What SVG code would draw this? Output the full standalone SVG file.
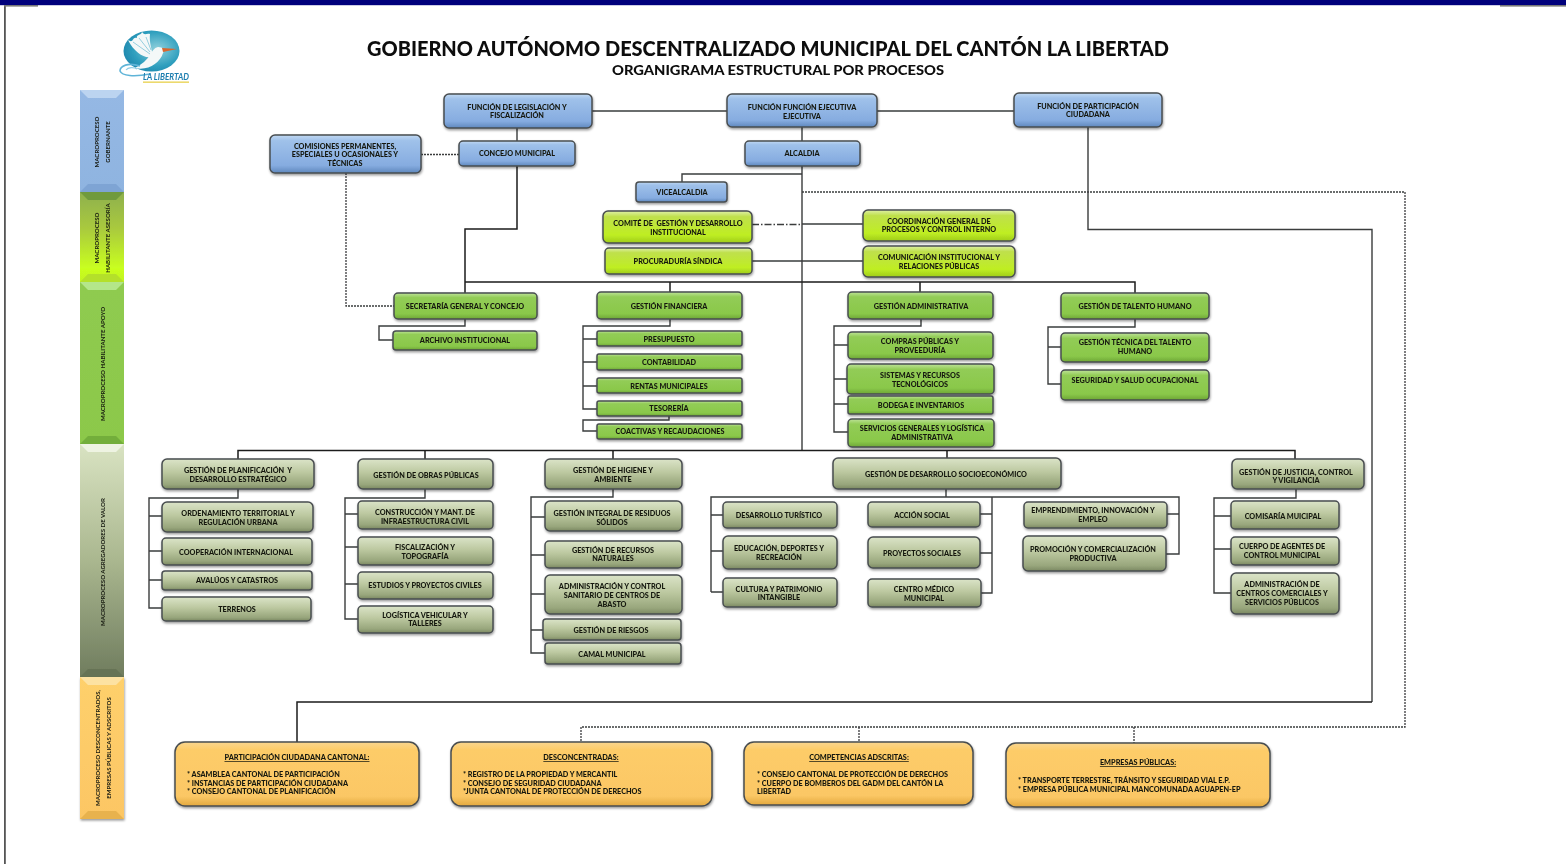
<svg xmlns="http://www.w3.org/2000/svg" width="1566" height="864" viewBox="0 0 1566 864">
<style>
text{font-family:"Lato","Open Sans","Liberation Sans",sans-serif;fill:#15180f;white-space:pre}
.t{font-size:7.25px;font-weight:900;text-anchor:middle}
.l{font-size:7.25px;font-weight:900}
.h{font-size:7.3px;font-weight:900;text-anchor:middle;text-decoration:underline}
.v{font-size:6.1px;font-weight:700;text-anchor:middle}
.n{stroke:#484d50;stroke-width:1.5;filter:url(#sh)}
.blue{fill:url(#gb)}.lime{fill:url(#gl)}.green{fill:url(#gg)}.olive{fill:url(#go)}.orange{fill:url(#gy)}
.c{fill:none;stroke:#3a3c3e;stroke-width:1.4}
.k{fill:none;stroke:#1c1c1c;stroke-width:1.5}
.d{fill:none;stroke:#3a3c3e;stroke-width:1.3;stroke-dasharray:2 1}
</style>
<defs>
<filter id="sh" x="-10%" y="-20%" width="120%" height="150%"><feDropShadow dx="0.6" dy="1.6" stdDeviation="1.2" flood-color="#000" flood-opacity=".4"/></filter>
<filter id="sf" x="-2%" y="-2%" width="104%" height="104%"><feGaussianBlur stdDeviation="0.3"/></filter>
<filter id="lf" x="-20%" y="-20%" width="140%" height="140%"><feGaussianBlur stdDeviation="0.5"/></filter>
<linearGradient id="gb" x1="0" y1="0" x2="0" y2="1"><stop offset="0" stop-color="#c2d9f2"/><stop offset=".15" stop-color="#9fc1ea"/><stop offset=".8" stop-color="#86ace0"/><stop offset="1" stop-color="#5f88bd"/></linearGradient>
<linearGradient id="gl" x1="0" y1="0" x2="0" y2="1"><stop offset="0" stop-color="#dff0a8"/><stop offset=".18" stop-color="#bfe04c"/><stop offset=".75" stop-color="#bfee22"/><stop offset="1" stop-color="#9fcc1c"/></linearGradient>
<linearGradient id="gg" x1="0" y1="0" x2="0" y2="1"><stop offset="0" stop-color="#bfe39a"/><stop offset=".18" stop-color="#92cc56"/><stop offset=".8" stop-color="#8ac84a"/><stop offset="1" stop-color="#6da636"/></linearGradient>
<linearGradient id="go" x1="0" y1="0" x2="0" y2="1"><stop offset="0" stop-color="#dbe4c8"/><stop offset=".45" stop-color="#bcc8a0"/><stop offset=".85" stop-color="#98a67c"/><stop offset="1" stop-color="#7b8862"/></linearGradient>
<linearGradient id="gy" x1="0" y1="0" x2="0" y2="1"><stop offset="0" stop-color="#f9d690"/><stop offset=".12" stop-color="#fdcc68"/><stop offset=".85" stop-color="#fbc765"/><stop offset="1" stop-color="#e3a93f"/></linearGradient>
<linearGradient id="sb" x1="0" y1="0" x2="0" y2="1"><stop offset="0" stop-color="#95b8e4"/><stop offset="1" stop-color="#8fb4e0"/></linearGradient>
<linearGradient id="sl" x1="0" y1="0" x2="0" y2="1"><stop offset="0" stop-color="#8eb04e"/><stop offset=".4" stop-color="#a9c93e"/><stop offset=".85" stop-color="#c9ff1f"/><stop offset="1" stop-color="#c2f320"/></linearGradient>
<linearGradient id="sg" x1="0" y1="0" x2="0" y2="1"><stop offset="0" stop-color="#8fcb50"/><stop offset="1" stop-color="#8cc84a"/></linearGradient>
<linearGradient id="so" x1="0" y1="0" x2="0" y2="1"><stop offset="0" stop-color="#d9e3c2"/><stop offset=".5" stop-color="#aab78f"/><stop offset="1" stop-color="#6f7c5e"/></linearGradient>
<linearGradient id="sy" x1="0" y1="0" x2="0" y2="1"><stop offset="0" stop-color="#fed06c"/><stop offset="1" stop-color="#fcc664"/></linearGradient>
<radialGradient id="ball" cx=".6" cy=".45" r=".7"><stop offset="0" stop-color="#8fd0dc"/><stop offset=".6" stop-color="#2f9fbe"/><stop offset="1" stop-color="#1a7fa8"/></radialGradient>
</defs>
<rect width="1566" height="864" fill="#fff"/>
<g id="frame">
<rect x="0" y="0" width="1566" height="5.2" fill="#00007c"/>
<rect x="4" y="5" width="1.8" height="859" fill="#555"/>
<rect x="4" y="5" width="34" height="1.6" fill="#777"/>
<rect x="1500" y="5" width="66" height="1.6" fill="#777"/>
</g>
<g filter="url(#sf)">
<g id="logo" filter="url(#lf)">
<ellipse cx="151.500" cy="51" rx="28" ry="20.500" fill="url(#ball)"/>
<path d="M128 40C134 44 132 36 137 38C136 34 141 36 142 32C145 36 146 33 150 34C149 42 152 50 153 56C147 60 135 54 128 40Z" fill="#f4f8f8"/>
<path d="M150 54L133 42M150 52L139 38M151 50L146 37" fill="none" stroke="#6bbcd2" stroke-width=".7"/>
<path d="M158 47C163 47 165 50 163 53C160 63 148 71 135 68C142 64 147 60 150 55C152 51 154 48 158 47Z" fill="#f4f8f8"/>
<path d="M162 48L177 49L163 52Z" fill="#d9662f"/>
<path d="M140 66C128 62 120 66 120 71C122 76 134 77 150 74" fill="none" stroke="#5fb4d8" stroke-width="1.600"/>
<path d="M126 70C128 67 134 67 137 69" fill="none" stroke="#8fcde6" stroke-width="1.200"/>
<rect x="143" y="81.500" width="46" height="1.300" fill="#e8d04a"/>
</g>
<text id="logo-text" x="143" y="80.300" font-size="8.600" font-style="italic" font-weight="700" style="fill:#1f7fb0" textLength="46" lengthAdjust="spacingAndGlyphs">LA LIBERTAD</text>
<g id="title">
<text x="768" y="56" font-size="20" font-weight="900" text-anchor="middle" textLength="802" lengthAdjust="spacingAndGlyphs" style="fill:#111">GOBIERNO AUTÓNOMO DESCENTRALIZADO MUNICIPAL DEL CANTÓN LA LIBERTAD</text>
<text x="778" y="75" font-size="13.500" font-weight="900" text-anchor="middle" textLength="332" lengthAdjust="spacingAndGlyphs" style="fill:#111">ORGANIGRAMA ESTRUCTURAL POR PROCESOS</text>
</g>
<g id="process-bar">
<g id="bar-gobernante"><rect x="80" y="90" width="44" height="102" fill="url(#sb)"/><polygon points="80,90 124,90 116,98 88,98" fill="#bcd4f0"/><polygon points="88,184 116,184 124,192 80,192" fill="#7ea4d4"/><text class="v" transform="translate(98.500,142) rotate(-90)">MACROPROCESO</text><text class="v" transform="translate(109.500,142) rotate(-90)">GOBERNANTE</text></g>
<g id="bar-asesoria"><rect x="80" y="192" width="44" height="90" fill="url(#sl)"/><polygon points="80,192 124,192 116,200 88,200" fill="#6f9a3e"/><polygon points="88,274 116,274 124,282 80,282" fill="#b4e029"/><text class="v" transform="translate(99,238) rotate(-90)">MACROPROCESO</text><text class="v" transform="translate(110,238) rotate(-90)">HABILITANTE ASESORÍA</text></g>
<g id="bar-apoyo"><rect x="80" y="282" width="44" height="162" fill="url(#sg)"/><polygon points="80,282 124,282 116,290 88,290" fill="#b4e68a"/><polygon points="88,436 116,436 124,444 80,444" fill="#73ae3a"/><text class="v" transform="translate(104.500,364) rotate(-90)">MACROPROCESO HABILITANTE APOYO</text></g>
<g id="bar-valor"><rect x="80" y="444" width="44" height="233" fill="url(#so)"/><polygon points="80,444 124,444 116,452 88,452" fill="#eef3e2"/><polygon points="88,669 116,669 124,677 80,677" fill="#667354"/><text class="v" transform="translate(104.500,562) rotate(-90)">MACROPROCESO AGREGADORES DE VALOR</text></g>
<g id="bar-descon"><rect x="80" y="677" width="44" height="142" fill="url(#sy)" style="filter:url(#sh)"/><polygon points="80,677 124,677 116,685 88,685" fill="#fde2a2"/><polygon points="88,811 116,811 124,819 80,819" fill="#e8b24e"/><text class="v" transform="translate(99.500,748) rotate(-90)">MACROPROCESO DESCONCENTRADOS,</text><text class="v" transform="translate(110.500,748) rotate(-90)">EMPRESAS PÚBLICAS Y ADSCRITOS</text></g>
</g>
<g id="connectors">
<path class="c" d="M592 111H727M877 111H1014M517 128V141M802 127V450"/>
<path class="k" d="M517 166V229H465V293M465 282H1135V293M670 282V292M920 282V292"/>
<path class="c" d="M802 174H682V182M802 224H863M752 261H863"/>
<path class="c" d="M752 224.500H802" style="stroke-dasharray:7 2 1.500 2"/>
<path class="k" d="M238 459V450.500H1295V459M425 450.500V459M613 450.500V459M947 450.500V458"/>
<path class="c" d="M1088 127V229.500H1372V702"/>
<path class="k" d="M1372 702H297V742"/>
<path class="d" d="M802 192H1405V727H581V742M859 727V742M1134 727V743"/>
<path class="d" d="M421 154.500H459M346 173V306H394"/>
<path class="c" d="M465 319V326H379V340H393"/>
<path class="c" d="M670 319V326H583V409H597M583 339H597M583 362H597M583 386H597M669 416V420H583V431H597"/>
<path class="c" d="M921 319V326H834V432H848M834 345H848M834 379H847M834 404H848"/>
<path class="c" d="M1135 319V327H1048V384H1061M1048 347H1061"/>
<path class="c" d="M238 489V498H149V608H162M149 516H162M149 551H162M149 580H162"/>
<path class="c" d="M425 489V498H345V619H358M345 514H358M345 547H358M345 584H358"/>
<path class="c" d="M613 489V497H531V653H545M531 517H545M531 555H545M531 594H545M531 630H543"/>
<path class="c" d="M946 489V497M711 592V497H1179V554H1166M711 515H723M711 551H723M711 592H723M992 497V593H981M980 514H992M980 553H992M1167 514H1179"/>
<path class="c" d="M1296 489V498H1214V593H1231M1214 516H1231M1214 549H1231"/>
</g>
<g id="n-legislacion"><rect class="n blue" x="444" y="94" width="148" height="34" rx="5"/><text class="t"><tspan x="517" y="109.500">FUNCIÓN DE LEGISLACIÓN Y</tspan><tspan x="517" y="118">FISCALIZACIÓN</tspan></text></g>
<g id="n-ejecutiva"><rect class="n blue" x="727" y="94" width="150" height="33" rx="5"/><text class="t"><tspan x="802" y="109.500">FUNCIÓN FUNCIÓN EJECUTIVA</tspan><tspan x="802" y="118.500">EJECUTIVA</tspan></text></g>
<g id="n-participacion"><rect class="n blue" x="1014" y="93" width="148" height="34" rx="5"/><text class="t"><tspan x="1088" y="108.500">FUNCIÓN DE PARTICIPACIÓN</tspan><tspan x="1088" y="117">CIUDADANA</tspan></text></g>
<g id="n-comisiones"><rect class="n blue" x="270" y="135" width="151" height="38" rx="5"/><text class="t"><tspan x="345" y="148.500">COMISIONES PERMANENTES,</tspan><tspan x="345" y="157">ESPECIALES U OCASIONALES Y</tspan><tspan x="345" y="165.500">TÉCNICAS</tspan></text></g>
<g id="n-concejo"><rect class="n blue" x="459" y="141" width="116" height="25" rx="4"/><text class="t" x="517" y="156">CONCEJO MUNICIPAL</text></g>
<g id="n-alcaldia"><rect class="n blue" x="745" y="141" width="115" height="25" rx="4"/><text class="t" x="802" y="156">ALCALDIA</text></g>
<g id="n-vice"><rect class="n blue" x="636" y="182" width="91" height="20" rx="3"/><text class="t" x="682" y="194.600">VICEALCALDIA</text></g>
<g id="n-comite"><rect class="n lime" x="603" y="211" width="149" height="32" rx="5"/><text class="t"><tspan x="678" y="225.600">COMITÉ DE  GESTIÓN Y DESARROLLO</tspan><tspan x="678" y="234.600">INSTITUCIONAL</tspan></text></g>
<g id="n-procuraduria"><rect class="n lime" x="605" y="248" width="147" height="26" rx="4"/><text class="t" x="678" y="263.600">PROCURADURÍA SÍNDICA</text></g>
<g id="n-coordinacion"><rect class="n lime" x="863" y="210" width="152" height="31" rx="5"/><text class="t"><tspan x="939" y="223.600">COORDINACIÓN GENERAL DE</tspan><tspan x="939" y="231.600">PROCESOS Y CONTROL INTERNO</tspan></text></g>
<g id="n-comunicacion"><rect class="n lime" x="863" y="246" width="152" height="31" rx="5"/><text class="t"><tspan x="939" y="259.600">COMUNICACIÓN INSTITUCIONAL Y</tspan><tspan x="939" y="268.600">RELACIONES PÚBLICAS</tspan></text></g>
<g id="n-secretaria"><rect class="n green" x="394" y="293" width="143" height="26" rx="4"/><text class="t" x="465" y="308.600">SECRETARÍA GENERAL Y CONCEJO</text></g>
<g id="n-archivo"><rect class="n green" x="393" y="331" width="144" height="19" rx="3"/><text class="t" x="465" y="342.600">ARCHIVO INSTITUCIONAL</text></g>
<g id="n-financiera"><rect class="n green" x="597" y="292" width="145" height="27" rx="4"/><text class="t" x="669" y="308.600">GESTIÓN FINANCIERA</text></g>
<g id="n-presupuesto"><rect class="n green" x="597" y="331" width="145" height="15" rx="2"/><text class="t" x="669" y="341.600">PRESUPUESTO</text></g>
<g id="n-contabilidad"><rect class="n green" x="597" y="354" width="145" height="16" rx="2"/><text class="t" x="669" y="364.600">CONTABILIDAD</text></g>
<g id="n-rentas"><rect class="n green" x="597" y="378" width="145" height="15" rx="2"/><text class="t" x="669" y="388.600">RENTAS MUNICIPALES</text></g>
<g id="n-tesoreria"><rect class="n green" x="597" y="401" width="145" height="15" rx="2"/><text class="t" x="669" y="410.600">TESORERÍA</text></g>
<g id="n-coactivas"><rect class="n green" x="597" y="424" width="145" height="15" rx="2"/><text class="t" x="670" y="433.600">COACTIVAS Y RECAUDACIONES</text></g>
<g id="n-administrativa"><rect class="n green" x="848" y="292" width="145" height="27" rx="4"/><text class="t" x="921" y="308.600">GESTIÓN ADMINISTRATIVA</text></g>
<g id="n-compras"><rect class="n green" x="848" y="332" width="145" height="27" rx="4"/><text class="t"><tspan x="920" y="343.600">COMPRAS PÚBLICAS Y</tspan><tspan x="920" y="352.600">PROVEEDURÍA</tspan></text></g>
<g id="n-sistemas"><rect class="n green" x="847" y="364" width="147" height="30" rx="4"/><text class="t"><tspan x="920" y="377.600">SISTEMAS Y RECURSOS</tspan><tspan x="920" y="386.600">TECNOLÓGICOS</tspan></text></g>
<g id="n-bodega"><rect class="n green" x="848" y="396" width="145" height="18" rx="2"/><text class="t" x="921" y="407.600">BODEGA E INVENTARIOS</text></g>
<g id="n-servicios"><rect class="n green" x="848" y="419" width="146" height="28" rx="4"/><text class="t"><tspan x="922" y="430.600">SERVICIOS GENERALES Y LOGÍSTICA</tspan><tspan x="922" y="439.600">ADMINISTRATIVA</tspan></text></g>
<g id="n-talento"><rect class="n green" x="1061" y="293" width="148" height="26" rx="4"/><text class="t" x="1135" y="308.600">GESTIÓN DE TALENTO HUMANO</text></g>
<g id="n-tecnica"><rect class="n green" x="1061" y="333" width="148" height="29" rx="4"/><text class="t"><tspan x="1135" y="344.600">GESTIÓN TÉCNICA DEL TALENTO</tspan><tspan x="1135" y="353.600">HUMANO</tspan></text></g>
<g id="n-seguridad"><rect class="n green" x="1061" y="370" width="148" height="30" rx="4"/><text class="t" x="1135" y="382.600">SEGURIDAD Y SALUD OCUPACIONAL</text></g>
<g id="n-planificacion"><rect class="n olive" x="162" y="459" width="152" height="30" rx="5"/><text class="t"><tspan x="238" y="472.600">GESTIÓN DE PLANIFICACIÓN  Y</tspan><tspan x="238" y="481.600">DESARROLLO ESTRATÉGICO</tspan></text></g>
<g id="n-ordenamiento"><rect class="n olive" x="162" y="502" width="151" height="30" rx="5"/><text class="t"><tspan x="238" y="515.600">ORDENAMIENTO TERRITORIAL Y</tspan><tspan x="238" y="524.600">REGULACIÓN URBANA</tspan></text></g>
<g id="n-cooperacion"><rect class="n olive" x="162" y="538" width="150" height="27" rx="4"/><text class="t" x="236" y="554.600">COOPERACIÓN INTERNACIONAL</text></g>
<g id="n-avaluos"><rect class="n olive" x="162" y="571" width="150" height="19" rx="3"/><text class="t" x="237" y="582.600">AVALÚOS Y CATASTROS</text></g>
<g id="n-terrenos"><rect class="n olive" x="162" y="597" width="149" height="24" rx="4"/><text class="t" x="237" y="611.600">TERRENOS</text></g>
<g id="n-obras"><rect class="n olive" x="358" y="459" width="135" height="30" rx="5"/><text class="t" x="426" y="477.600">GESTIÓN DE OBRAS PÚBLICAS</text></g>
<g id="n-construccion"><rect class="n olive" x="358" y="501" width="135" height="28" rx="4"/><text class="t"><tspan x="425" y="514.600">CONSTRUCCIÓN Y MANT. DE</tspan><tspan x="425" y="523.600">INFRAESTRUCTURA CIVIL</tspan></text></g>
<g id="n-fiscalizacion"><rect class="n olive" x="358" y="537" width="135" height="28" rx="4"/><text class="t"><tspan x="425" y="549.600">FISCALIZACIÓN Y</tspan><tspan x="425" y="558.600">TOPOGRAFÍA</tspan></text></g>
<g id="n-estudios"><rect class="n olive" x="358" y="572" width="135" height="27" rx="4"/><text class="t" x="425" y="587.600">ESTUDIOS Y PROYECTOS CIVILES</text></g>
<g id="n-logistica"><rect class="n olive" x="358" y="606" width="135" height="27" rx="4"/><text class="t"><tspan x="425" y="617.600">LOGÍSTICA VEHICULAR Y</tspan><tspan x="425" y="625.600">TALLERES</tspan></text></g>
<g id="n-higiene"><rect class="n olive" x="545" y="459" width="137" height="30" rx="5"/><text class="t"><tspan x="613" y="472.600">GESTIÓN DE HIGIENE Y</tspan><tspan x="613" y="481.600">AMBIENTE</tspan></text></g>
<g id="n-residuos"><rect class="n olive" x="545" y="501" width="137" height="30" rx="5"/><text class="t"><tspan x="612" y="515.600">GESTIÓN INTEGRAL DE RESIDUOS</tspan><tspan x="612" y="524.600">SÓLIDOS</tspan></text></g>
<g id="n-recursos"><rect class="n olive" x="545" y="541" width="137" height="27" rx="4"/><text class="t"><tspan x="613" y="552.600">GESTIÓN DE RECURSOS</tspan><tspan x="613" y="560.600">NATURALES</tspan></text></g>
<g id="n-abasto"><rect class="n olive" x="545" y="575" width="137" height="39" rx="5"/><text class="t"><tspan x="612" y="588.600">ADMINISTRACIÓN Y CONTROL</tspan><tspan x="612" y="597.600">SANITARIO DE CENTROS DE</tspan><tspan x="612" y="606.600">ABASTO</tspan></text></g>
<g id="n-riesgos"><rect class="n olive" x="543" y="619" width="138" height="21" rx="3"/><text class="t" x="611" y="632.600">GESTIÓN DE RIESGOS</text></g>
<g id="n-camal"><rect class="n olive" x="545" y="643" width="136" height="21" rx="3"/><text class="t" x="612" y="656.600">CAMAL MUNICIPAL</text></g>
<g id="n-socio"><rect class="n olive" x="833" y="458" width="228" height="31" rx="5"/><text class="t" x="946" y="476.600">GESTIÓN DE DESARROLLO SOCIOECONÓMICO</text></g>
<g id="n-turistico"><rect class="n olive" x="723" y="502" width="114" height="26" rx="4"/><text class="t" x="779" y="517.600">DESARROLLO TURÍSTICO</text></g>
<g id="n-educacion"><rect class="n olive" x="723" y="536" width="114" height="33" rx="5"/><text class="t"><tspan x="779" y="550.600">EDUCACIÓN, DEPORTES Y</tspan><tspan x="779" y="559.600">RECREACIÓN</tspan></text></g>
<g id="n-cultura"><rect class="n olive" x="723" y="578" width="114" height="29" rx="4"/><text class="t"><tspan x="779" y="591.600">CULTURA Y PATRIMONIO</tspan><tspan x="779" y="599.600">INTANGIBLE</tspan></text></g>
<g id="n-accion"><rect class="n olive" x="868" y="502" width="112" height="25" rx="4"/><text class="t" x="922" y="517.600">ACCIÓN SOCIAL</text></g>
<g id="n-proyectos"><rect class="n olive" x="868" y="537" width="112" height="31" rx="5"/><text class="t" x="922" y="555.600">PROYECTOS SOCIALES</text></g>
<g id="n-medico"><rect class="n olive" x="868" y="579" width="113" height="28" rx="4"/><text class="t"><tspan x="924" y="591.600">CENTRO MÉDICO</tspan><tspan x="924" y="600.600">MUNICIPAL</tspan></text></g>
<g id="n-emprendimiento"><rect class="n olive" x="1024" y="502" width="143" height="26" rx="4"/><text class="t"><tspan x="1093" y="513">EMPRENDIMIENTO, INNOVACIÓN Y</tspan><tspan x="1093" y="522">EMPLEO</tspan></text></g>
<g id="n-promocion"><rect class="n olive" x="1023" y="536" width="143" height="35" rx="5"/><text class="t"><tspan x="1093" y="552">PROMOCIÓN Y COMERCIALIZACIÓN</tspan><tspan x="1093" y="561">PRODUCTIVA</tspan></text></g>
<g id="n-justicia"><rect class="n olive" x="1232" y="459" width="132" height="30" rx="5"/><text class="t"><tspan x="1296" y="475">GESTIÓN DE JUSTICIA, CONTROL</tspan><tspan x="1296" y="483">Y VIGILANCIA</tspan></text></g>
<g id="n-comisaria"><rect class="n olive" x="1231" y="501" width="108" height="28" rx="4"/><text class="t" x="1283" y="518.600">COMISARÍA MUICIPAL</text></g>
<g id="n-agentes"><rect class="n olive" x="1231" y="537" width="108" height="28" rx="4"/><text class="t"><tspan x="1282" y="549">CUERPO DE AGENTES DE</tspan><tspan x="1282" y="558">CONTROL MUNICIPAL</tspan></text></g>
<g id="n-centros"><rect class="n olive" x="1231" y="573" width="108" height="41" rx="5"/><text class="t"><tspan x="1282" y="586.600">ADMINISTRACIÓN DE</tspan><tspan x="1282" y="595.600">CENTROS COMERCIALES Y</tspan><tspan x="1282" y="604.600">SERVICIOS PÚBLICOS</tspan></text></g>
<g id="n-ciudadana"><rect class="n orange" x="175" y="742" width="244" height="64" rx="10"/><text class="h" x="297" y="760">PARTICIPACIÓN CIUDADANA CANTONAL:</text><text class="l"><tspan x="187" y="777">* ASAMBLEA CANTONAL DE PARTICIPACIÓN</tspan><tspan x="187" y="786">* INSTANCIAS DE PARTICIPACIÓN CIUDADANA</tspan><tspan x="187" y="794">* CONSEJO CANTONAL DE PLANIFICACIÓN</tspan></text></g>
<g id="n-desconcentradas"><rect class="n orange" x="451" y="742" width="261" height="64" rx="10"/><text class="h" x="581" y="760">DESCONCENTRADAS:</text><text class="l"><tspan x="463" y="777">* REGISTRO DE LA PROPIEDAD Y MERCANTIL</tspan><tspan x="463" y="786">* CONSEJO DE SEGURIDAD CIUDADANA</tspan><tspan x="463" y="794">*JUNTA CANTONAL DE PROTECCIÓN DE DERECHOS</tspan></text></g>
<g id="n-adscritas"><rect class="n orange" x="744" y="742" width="229" height="63" rx="10"/><text class="h" x="859" y="760">COMPETENCIAS ADSCRITAS:</text><text class="l"><tspan x="757" y="777">* CONSEJO CANTONAL DE PROTECCIÓN DE DERECHOS</tspan><tspan x="757" y="786">* CUERPO DE BOMBEROS DEL GADM DEL CANTÓN LA</tspan><tspan x="757" y="794">LIBERTAD</tspan></text></g>
<g id="n-empresas"><rect class="n orange" x="1006" y="743" width="264" height="64" rx="10"/><text class="h" x="1138" y="765">EMPRESAS PÚBLICAS:</text><text class="l"><tspan x="1018" y="783">* TRANSPORTE TERRESTRE, TRÁNSITO Y SEGURIDAD VIAL E.P.</tspan><tspan x="1018" y="792">* EMPRESA PÚBLICA MUNICIPAL MANCOMUNADA AGUAPEN-EP</tspan></text></g>
</g>
</svg>
